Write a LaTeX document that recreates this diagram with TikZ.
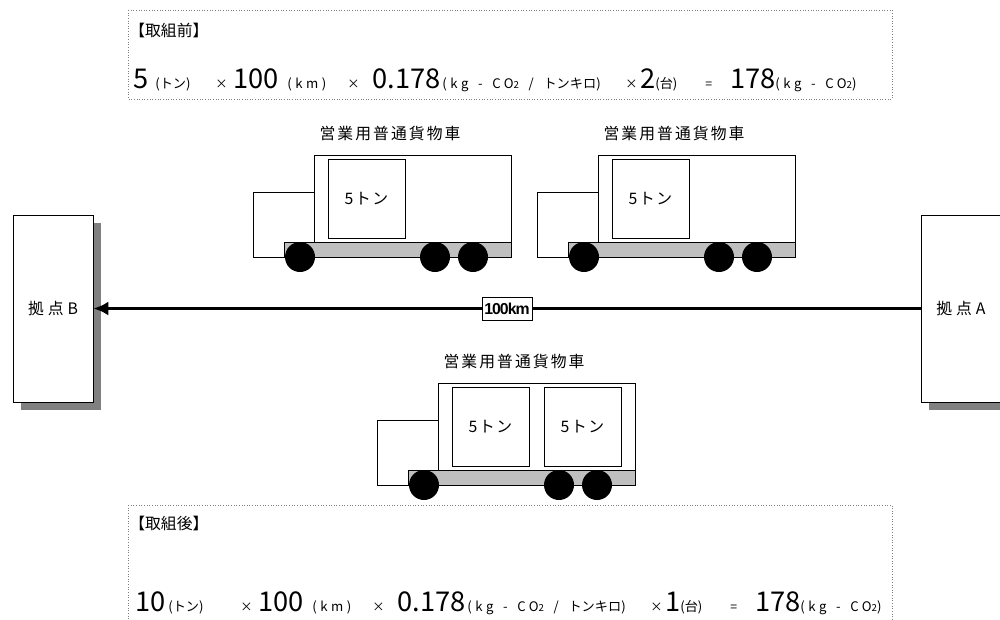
\documentclass[tikz,border=0pt]{standalone}
\usepackage{fontspec}
\setmainfont{Noto Sans CJK JP}
\newfontfamily\kmfont{Liberation Sans}
\usetikzlibrary{arrows.meta,shadows,positioning}

% fonts used in the picture
\newcommand\numfont{\fontsize{15.5}{15.5}\selectfont}
\newcommand\unitfont{\fontsize{7.5}{7.5}\selectfont\addfontfeatures{LetterSpace=27}}
\newcommand\jp[1]{{\addfontfeatures{LetterSpace=0}#1}}
\newcommand\gap{\hspace{5.5pt}}
\newcommand\opfont{\fontsize{7}{7}\selectfont}
\newcommand\lblfont{\fontsize{9}{9}\selectfont\addfontfeatures{LetterSpace=13}}
\newcommand\sitefont{\fontsize{9}{9}\selectfont\addfontfeatures{LetterSpace=25}}
\newcommand\hdrfont{\fontsize{9}{9}\selectfont}
\newcommand\cotwo{CO{\fontsize{5.5}{5.5}\selectfont 2}}

\tikzset{
notebox/.style = {draw=gray, densely dotted, line width=0.5pt},
part/.style    = {draw, line width=0.5pt},
cargo/.style   = {draw, fill=white, line width=0.5pt, minimum width=1.54cm, minimum height=1.58cm, font=\fontsize{9}{9}\selectfont\addfontfeatures{LetterSpace=10}},
station/.style = {draw, fill=white, line width=0.5pt, minimum width=1.6cm, minimum height=3.74cm, font=\sitefont,
                  drop shadow={shadow xshift=0.16cm, shadow yshift=-0.16cm, fill=gray, opacity=1}},
kmbox/.style   = {draw, fill=white, line width=0.5pt, minimum width=1cm, minimum height=0.46cm, inner sep=1pt,
                  font=\kmfont\bfseries\fontsize{9}{9}\selectfont\addfontfeatures{LetterSpace=-6}},
route/.style   = {line width=1.7pt, -{Latex[length=8.5pt,width=8pt]}},
piece/.style   = {anchor=base west, inner sep=0pt}
}

\begin{document}
\begin{tikzpicture}[x=0.02cm, y=-0.02cm]
    \useasboundingbox (0,0) rectangle (1000,619);
    \clip (0,0) rectangle (1000,619);

    % calculation before
    \draw [notebox] (128,10) rectangle (892,99);
    \node [anchor=west, inner sep=0pt, font=\hdrfont] (before) at (129,30) {【取組前】};
    \foreach \x/\t [count=\i] in {133/{\numfont 5}, 155/{\unitfont(\jp{トン})}, 215/{\opfont ×},
        233/{\numfont 100}, 287/{\unitfont(km)}, 347/{\opfont ×}, 372/{\numfont 0.178},
        442/{\unitfont(kg\gap-\gap\cotwo\gap/\gap\jp{トンキロ})}, 625/{\opfont ×}, 640/{\numfont 2},
        655/{\unitfont(\jp{台})}, 705/{\opfont =}, 730/{\numfont 178}, 775/{\unitfont(kg\gap-\gap\cotwo)}}
        \node [piece] (pre\i) at (\x,88) {\t};

    % trucks
    \foreach \dx/\dy [count=\i] in {0/0, 284/0, 124/228}{
    \begin{scope}[shift={(\dx,\dy)}]
        \draw [part] (253,192) rectangle (314,257);
        \draw [part] (314,155) rectangle (511,242);
        \node [cargo] (load\i) at (366.5,198.5) {5トン};
        \node [font=\lblfont] (name\i) at (390,133) {営業用普通貨物車};
        \draw [part, fill=gray!50] (284,242) rectangle (511,257);
        \foreach \wx in {300,435,473}
            \fill (\wx,257) circle (15);
    \end{scope}
    }
    \node [cargo] (load4) at (582.5,426.5) {5トン};

    % sites and route
    \node [station] (siteB) at (53,308.5) {拠点B};
    \node [station] (siteA) at (961,308.5) {拠点A};
    \draw [route] (siteA) -- node[kmbox]{100km} (siteB);

    % calculation after
    \draw [notebox] (128,505) rectangle (892,660);
    \node [anchor=west, inner sep=0pt, font=\hdrfont] (after) at (129,523) {【取組後】};
    \foreach \x/\t [count=\i] in {135/{\numfont 10}, 168/{\unitfont(\jp{トン})}, 240/{\opfont ×},
        258/{\numfont 100}, 312/{\unitfont(km)}, 372/{\opfont ×}, 397/{\numfont 0.178},
        467/{\unitfont(kg\gap-\gap\cotwo\gap/\gap\jp{トンキロ})}, 650/{\opfont ×}, 665/{\numfont 1},
        680/{\unitfont(\jp{台})}, 730/{\opfont =}, 755/{\numfont 178}, 800/{\unitfont(kg\gap-\gap\cotwo)}}
        \node [piece] (post\i) at (\x,611) {\t};
\end{tikzpicture}
\end{document}
